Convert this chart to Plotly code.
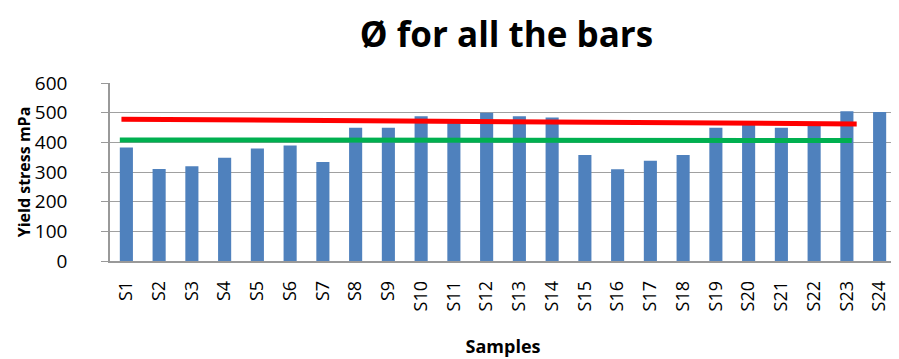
import plotly.graph_objects as go

samples = [f"S{i}" for i in range(1, 25)]
yield_stress = [383, 310, 319, 348, 379, 389, 334, 449, 449, 488, 466, 500,
                488, 484, 357, 309, 338, 357, 449, 459, 449, 459, 505, 502]

# Reference lines drawn across the bars (positions in category units)
red_line_x = [-0.15, 22.3]
red_line_y = [478, 462]
green_line_x = [-0.2, 22.15]
green_line_y = [408, 406]

y_ticks = [0, 100, 200, 300, 400, 500, 600]

fig = go.Figure()
fig.add_trace(go.Bar(x=samples, y=yield_stress, marker=dict(color="#4f81bd", line=dict(width=0)),
                     width=0.4, showlegend=False))
fig.add_trace(go.Scatter(x=green_line_x, y=green_line_y, mode="lines", xaxis="x2",
                         line=dict(color="#00b050", width=5), showlegend=False))
fig.add_trace(go.Scatter(x=red_line_x, y=red_line_y, mode="lines", xaxis="x2",
                         line=dict(color="#ff0000", width=5), showlegend=False))

font_family = "Open Sans, Liberation Sans, sans-serif"

# The page body adds an 8px margin, so the figure is 8px smaller than the window.
fig.update_layout(
    width=891, height=351,
    margin=dict(l=102, r=3, t=75, b=98),
    paper_bgcolor="white", plot_bgcolor="white",
    font=dict(family=font_family, color="black"),
    title=dict(text="<b>Ø for all the bars</b>", x=0.5595, xanchor="center", y=0.925, yanchor="middle",
               font=dict(size=35, family=font_family, color="black")),
    xaxis=dict(type="category", range=[-0.5, 23.5], tickangle=-90, showgrid=False,
               showline=True, linecolor="#999999", linewidth=1.5, ticks="",
               ticklabelstandoff=11,
               tickfont=dict(size=18), automargin=False,
               title=dict(text="<b>Samples</b>", font=dict(size=18), standoff=30)),
    xaxis2=dict(overlaying="x", range=[-0.5, 23.5], visible=False),
    yaxis=dict(range=[0, 600], tickvals=y_ticks, showgrid=True, gridcolor="#a0a0a0", gridwidth=1.3,
               showline=True, linecolor="#999999", linewidth=1.5, ticks="outside", ticklen=7,
               tickcolor="#999999", tickfont=dict(size=19), automargin=False, zeroline=False,
               ticklabelstandoff=30,
               title=dict(text="<b>Yield stress mPa</b>", font=dict(size=16), standoff=0)),
    bargap=0.6,
)

fig.write_html("out.html")
